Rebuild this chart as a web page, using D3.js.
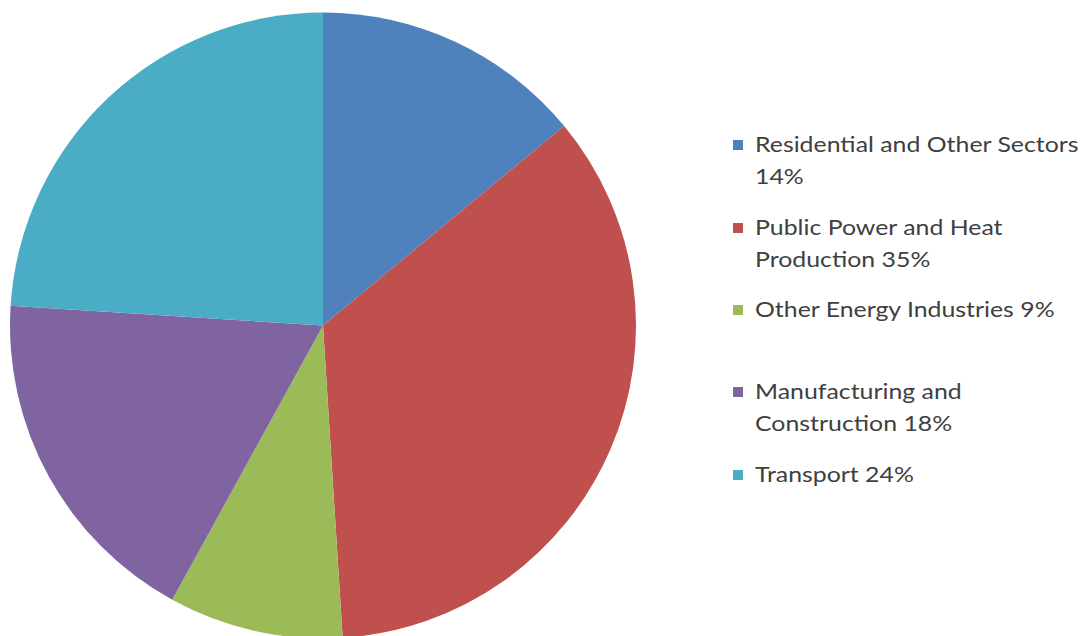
<!DOCTYPE html>
<html>
<head>
<meta charset="utf-8">
<script src="https://cdn.jsdelivr.net/npm/d3@7"></script>
<style>
  html, body { margin: 0; padding: 0; background: #ffffff; }
  svg { display: block; }
</style>
</head>
<body>
<svg id="chart" width="1089" height="636"></svg>
<script>
const categories = [
  "Residential and Other Sectors",
  "Public Power and Heat Production",
  "Other Energy Industries",
  "Manufacturing and Construction",
  "Transport"
];
const values = [14, 35, 9, 18, 24];
const colors = ["#4F81BD", "#C0504D", "#9BBB59", "#8064A2", "#4BACC6"];
const legendLines = [
  ["Residential and Other Sectors", "14%"],
  ["Public Power and Heat", "Production 35%"],
  ["Other Energy Industries 9%"],
  ["Manufacturing and", "Construction 18%"],
  ["Transport 24%"]
];

const svg = d3.select("#chart");
const cx = 323, cy = 325.5, r = 313;

const data = categories.map((c, i) => ({ name: c, value: values[i], color: colors[i] }));
const pie = d3.pie().value(d => d.value).sort(null);
const arc = d3.arc().innerRadius(0).outerRadius(r);

const g = svg.append("g").attr("transform", `translate(${cx},${cy})`);
g.selectAll("path")
  .data(pie(data))
  .join("path")
  .attr("d", arc)
  .attr("fill", d => d.data.color)
  .attr("stroke", "none");

// Legend
const rowY = [152, 235, 317, 399, 482];
const lineH = 32;
const leg = svg.append("g").attr("font-family", "Lato, 'Open Sans', sans-serif")
  .attr("font-size", 22).attr("fill", "#404040");
legendLines.forEach((lines, i) => {
  const y0 = rowY[i];
  leg.append("rect")
    .attr("x", 733).attr("y", y0 - 12)
    .attr("width", 10).attr("height", 10)
    .attr("fill", colors[i]);
  lines.forEach((t, j) => {
    leg.append("text")
      .attr("transform", `translate(755,${y0 + j * lineH}) scale(1.13,1)`)
      .text(t);
  });
});
</script>
</body>
</html>
